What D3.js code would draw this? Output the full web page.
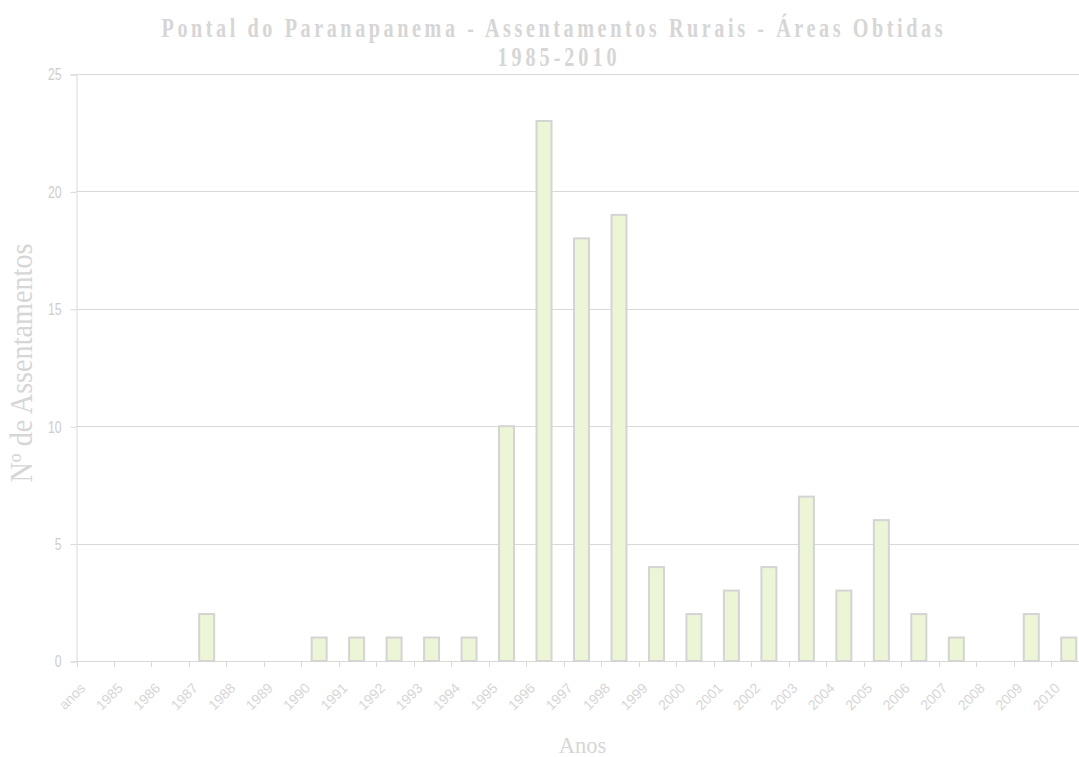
<!DOCTYPE html>
<html>
<head>
<meta charset="utf-8">
<script src="https://cdn.jsdelivr.net/npm/d3@7"></script>
<style>
  body { margin: 0; background: #fff; }
</style>
</head>
<body>
<div class="chart"></div>
<script>
const categories = ["anos", "1985", "1986", "1987", "1988", "1989", "1990", "1991", "1992",
                    "1993", "1994", "1995", "1996", "1997", "1998", "1999", "2000", "2001",
                    "2002", "2003", "2004", "2005", "2006", "2007", "2008", "2009", "2010"];
const values = [0, 0, 0, 2, 0, 0, 1, 1, 1, 1, 1, 10, 23, 18, 19, 4, 2, 3, 4, 7, 3, 6, 2, 1, 0, 2, 1];
const yTicks = [0, 5, 10, 15, 20, 25];
const titleLines = ["Pontal do Paranapanema - Assentamentos Rurais - Áreas Obtidas", "1985-2010"];
const yTitle = "Nº de Assentamentos";
const xTitle = "Anos";

const data = categories.map((c, i) => ({cat: c, value: values[i]}));

const width = 1079, height = 757;
const plot = ({left: 76.5, right: 1088.5, top: 74, bottom: 661});
const gridColor = "#d9d9d9";
const textColor = "#d6d6d6";

var svg = d3.select('.chart')
            .append('svg')
            .attr("width", width)
            .attr("height", height);

const xScale = d3.scaleBand()
                 .domain(categories)
                 .range([plot.left, plot.right]);

const yScale = d3.scaleLinear()
                 .domain([0, 25])
                 .range([plot.bottom, plot.top]);

// horizontal gridlines
svg.append("g")
   .selectAll("line")
   .data(yTicks.filter(d => d > 0))
   .enter()
   .append("line")
   .attr("x1", plot.left)
   .attr("x2", width)
   .attr("y1", d => Math.round(yScale(d)) + 0.5)
   .attr("y2", d => Math.round(yScale(d)) + 0.5)
   .attr("stroke", gridColor)
   .attr("stroke-width", 1);

// y axis
const yAxis = d3.axisLeft(yScale)
                .tickValues(yTicks)
                .tickSize(6)
                .tickPadding(9);

const yNarrow = 0.72;
const yG = svg.append("g")
              .attr("transform", `translate(${plot.left},0.5)`)
              .call(yAxis);
yG.select(".domain").attr("stroke", gridColor);
yG.selectAll(".tick line").attr("stroke", gridColor);
yG.selectAll(".tick text")
  .attr("x", -15 / yNarrow)
  .attr("transform", `scale(${yNarrow},1)`)
  .attr("fill", "#cdcdcd")
  .attr("font-family", "'Liberation Sans', Arial, sans-serif")
  .attr("font-size", 17);

// x axis line and ticks at category boundaries
svg.append("line")
   .attr("x1", plot.left)
   .attr("x2", plot.right)
   .attr("y1", plot.bottom + 0.5)
   .attr("y2", plot.bottom + 0.5)
   .attr("stroke", gridColor);

svg.append("g")
   .selectAll("line")
   .data(categories)
   .enter()
   .append("line")
   .attr("x1", d => Math.round(xScale(d)) + 0.5)
   .attr("x2", d => Math.round(xScale(d)) + 0.5)
   .attr("y1", plot.bottom)
   .attr("y2", plot.bottom + 6)
   .attr("stroke", gridColor);

// bars
const barWidth = xScale.bandwidth() * 0.4;
svg.append("g")
   .selectAll("rect")
   .data(data.filter(d => d.value > 0))
   .enter()
   .append("rect")
   .attr("x", d => xScale(d.cat) + (xScale.bandwidth() - barWidth) / 2 - 1)
   .attr("y", d => yScale(d.value))
   .attr("width", barWidth)
   .attr("height", d => yScale(0) - yScale(d.value))
   .attr("fill", "#ecf5d6")
   .attr("stroke", "#d4d4d4")
   .attr("stroke-width", 2);

// x tick labels, rotated 45 degrees (rotation on the group)
var xLabels = svg.append("g")
                 .attr("class", "x-labels")
                 .selectAll("g")
                 .data(categories)
                 .enter()
                 .append("g")
                 .attr("transform", d => `translate(${xScale(d) + xScale.bandwidth() / 2 - 9},689) rotate(-45)`);

xLabels.append("text")
       .attr("x", 0)
       .attr("y", 0)
       .attr("text-anchor", "end")
       .attr("font-family", "'Liberation Sans', Arial, sans-serif")
       .attr("font-size", 14)
       .attr("fill", textColor)
       .text(d => d);

// title
svg.append("text")
   .attr("transform", "translate(552,37) scale(0.72,1)")
   .attr("text-anchor", "middle")
   .attr("font-family", "'Liberation Serif', 'Times New Roman', serif")
   .attr("font-weight", "bold")
   .attr("font-size", 28)
   .attr("textLength", 781 / 0.72)
   .attr("lengthAdjust", "spacing")
   .attr("fill", textColor)
   .text(titleLines[0]);

svg.append("text")
   .attr("transform", "translate(557,66) scale(0.72,1)")
   .attr("text-anchor", "middle")
   .attr("font-family", "'Liberation Serif', 'Times New Roman', serif")
   .attr("font-weight", "bold")
   .attr("font-size", 28)
   .attr("textLength", 119 / 0.72)
   .attr("lengthAdjust", "spacing")
   .attr("fill", textColor)
   .text(titleLines[1]);

// axis titles
svg.append("text")
   .attr("transform", "translate(31.5,363) rotate(-90) scale(0.91,1)")
   .attr("text-anchor", "middle")
   .attr("font-family", "'Liberation Serif', 'Times New Roman', serif")
   .attr("font-size", 31)
   .attr("fill", textColor)
   .text(yTitle);

svg.append("text")
   .attr("x", (plot.left + plot.right) / 2)
   .attr("y", 753)
   .attr("text-anchor", "middle")
   .attr("font-family", "'Liberation Serif', 'Times New Roman', serif")
   .attr("font-size", 22.5)
   .attr("fill", textColor)
   .text(xTitle);
</script>
</body>
</html>
